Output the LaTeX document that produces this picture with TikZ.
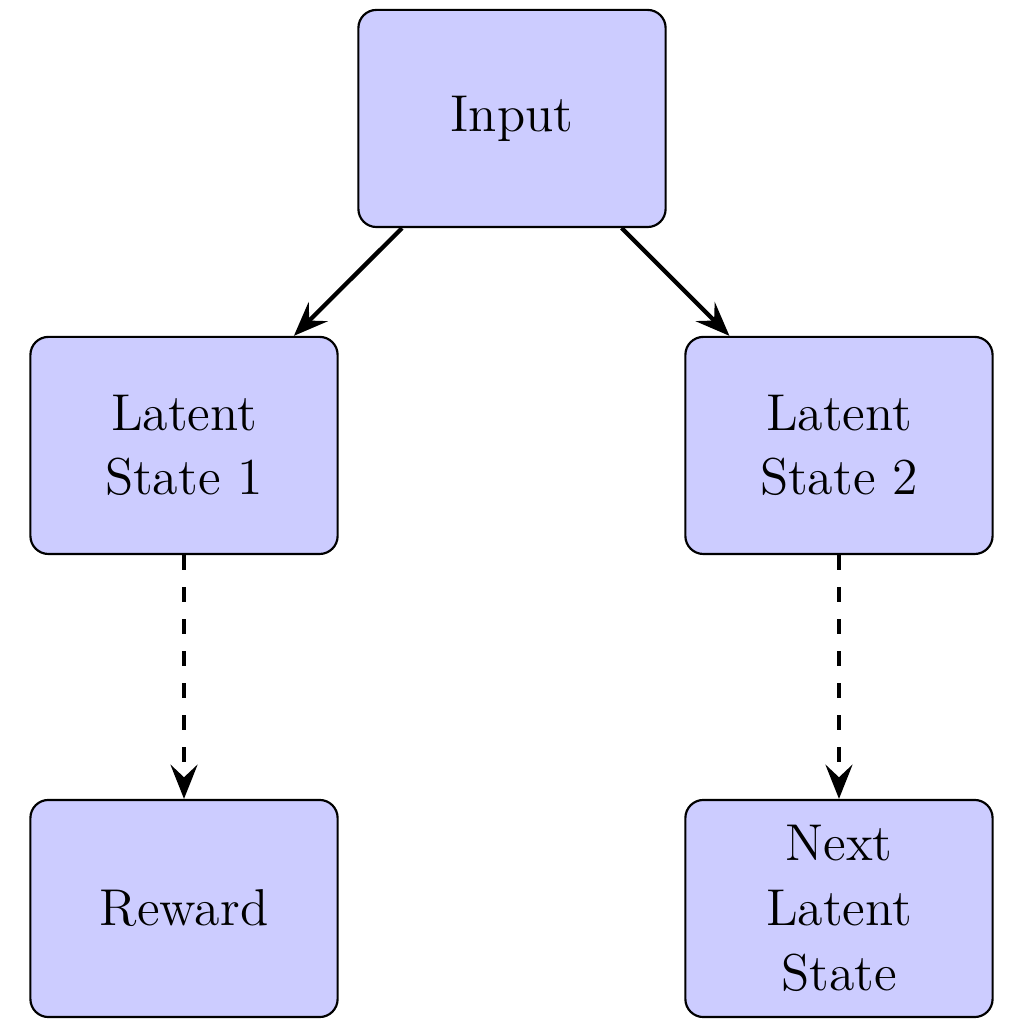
\documentclass[tikz,border=0pt]{standalone}
\usetikzlibrary{arrows.meta}
\begin{document}
\begin{tikzpicture}[x=1cm,y=-1cm,
  box/.style={draw, semithick, rounded corners=5pt, fill=blue!20, minimum width=3cm, minimum height=2.12cm, align=center, font=\Large, inner sep=2pt},
  arr/.style={very thick, -{Stealth[length=9.5pt, width=7.5pt, inset=3.5pt]}},
  darr/.style={arr, dash pattern=on 4.2pt off 4.7pt}]
\useasboundingbox (0,0) rectangle (10,10);
\node[box] (input) at (5.0,1.157) {Input};
\node[box] (ls1) at (1.797,4.35) {Latent\\State 1};
\node[box] (ls2) at (8.193,4.35) {Latent\\State 2};
\node[box] (reward) at (1.797,8.872) {Reward};
\node[box] (next) at (8.193,8.872) {Next\\Latent\\State};
\draw[arr] (input) -- (ls1);
\draw[arr] (input) -- (ls2);
\draw[darr] (ls1) -- (reward);
\draw[darr] (ls2) -- (next);
\end{tikzpicture}
\end{document}
